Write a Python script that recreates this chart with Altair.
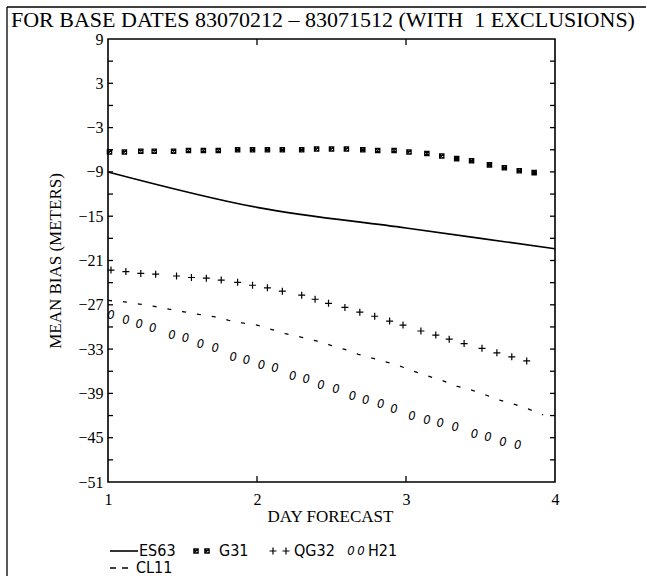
import altair as alt
import pandas as pd

# ---------------- text ----------------
TITLE = "FOR BASE DATES 83070212 \u2013 83071512 (WITH\u00a0 1 EXCLUSIONS)"
X_TITLE = "DAY FORECAST"
Y_TITLE = "MEAN BIAS (METERS)"
X_TICKS = [1, 2, 3, 4]
Y_TICKS = [9, 3, -3, -9, -15, -21, -27, -33, -39, -45, -51]
Y_INNER_TICKS = [6, 3, 0, -3, -6, -9, -12, -15, -18, -21, -24, -27, -30, -33, -36, -39, -42, -45, -48]
X_INNER_TICKS = [2, 3]
SERIES = ["ES63", "G31", "QG32", "H21", "CL11"]

# ---------------- data ----------------
ES63_DAY = [1.0, 2.0, 3.0, 4.0]
ES63_BIAS = [-9.0, -13.8, -16.6, -19.4]

G31_DAY = [1.01, 1.11, 1.22, 1.31, 1.44, 1.54, 1.64, 1.74, 1.87, 1.97, 2.07, 2.17, 2.30, 2.40,
           2.50, 2.60, 2.71, 2.81, 2.92, 3.02, 3.14, 3.24, 3.34, 3.44, 3.56, 3.66, 3.76, 3.86]
G31_BIAS = [-6.3, -6.3, -6.2, -6.2, -6.2, -6.1, -6.1, -6.1, -6.0, -6.0, -6.0, -6.0, -6.0, -5.9,
            -5.9, -5.9, -6.0, -6.1, -6.1, -6.3, -6.5, -6.85, -7.2, -7.5, -8.05, -8.45, -8.85, -9.1]

QG32_DAY = [1.02, 1.12, 1.22, 1.32, 1.46, 1.56, 1.66, 1.76, 1.87, 1.97, 2.07, 2.17, 2.30, 2.39,
            2.48, 2.59, 2.69, 2.79, 2.89, 2.98, 3.10, 3.20, 3.29, 3.39, 3.51, 3.61, 3.71, 3.81]
QG32_BIAS = [-22.3, -22.5, -22.75, -22.85, -23.1, -23.3, -23.4, -23.65, -23.95, -24.35, -24.7,
             -25.15, -25.7, -26.25, -26.8, -27.35, -28.0, -28.55, -29.2, -29.75, -30.55, -31.1,
             -31.65, -32.25, -32.9, -33.5, -34.05, -34.6]

H21_DAY = [1.02, 1.12, 1.21, 1.30, 1.43, 1.52, 1.62, 1.72, 1.84, 1.93, 2.03, 2.12, 2.24, 2.33,
           2.43, 2.53, 2.64, 2.73, 2.83, 2.92, 3.04, 3.14, 3.23, 3.33, 3.46, 3.55, 3.65, 3.75]
H21_BIAS = [-28.4, -29.1, -29.6, -30.2, -31.1, -31.55, -32.25, -32.9, -34.05, -34.5, -35.15,
            -35.6, -36.65, -37.1, -37.8, -38.35, -39.35, -39.9, -40.5, -41.05, -42.05, -42.55,
            -43.05, -43.6, -44.45, -44.9, -45.55, -46.0]

CL11_DAY = [1.0, 1.11, 1.21, 1.31, 1.41, 1.51, 1.61, 1.71, 1.81, 1.90, 2.00, 2.10, 2.19, 2.30,
            2.40, 2.49, 2.59, 2.68, 2.78, 2.87, 2.96, 3.05, 3.15, 3.25, 3.34, 3.44, 3.54, 3.63,
            3.73, 3.82, 3.92]
CL11_BIAS = [-26.4, -26.6, -26.9, -27.2, -27.6, -27.95, -28.3, -28.6, -29.1, -29.45, -29.75,
             -30.35, -30.9, -31.4, -31.9, -32.45, -33.05, -33.7, -34.25, -34.75, -35.3, -36.0,
             -36.65, -37.3, -38.0, -38.55, -39.25, -39.9, -40.5, -41.1, -41.9]

# ---------------- layout / style ----------------
W, H = 447, 443
LEFT, TOP = 108, 39
PADDING = {"left": LEFT, "top": TOP, "right": 646 - LEFT - W, "bottom": 576 - TOP - H}
SERIF = "Liberation Serif"
LEG_FONT = "DejaVu Sans Condensed"
INK = "black"
TICK_LEN = 5

X_SCALE = alt.Scale(domain=[1, 4], nice=False, zero=False)
Y_SCALE = alt.Scale(domain=[-51, 9], nice=False, zero=False)

G31_SHAPE = "M-1,-1H1V1H-1ZM-1,-1L1,1M1,-1L-1,1"
PLUS_SHAPE = "M-1,0H1M0,-1V1"

es63_df = pd.DataFrame({"day": ES63_DAY, "bias": ES63_BIAS})
g31_df = pd.DataFrame({"day": G31_DAY, "bias": G31_BIAS})
qg32_df = pd.DataFrame({"day": QG32_DAY, "bias": QG32_BIAS})
h21_df = pd.DataFrame({"day": H21_DAY, "bias": H21_BIAS})
cl11_df = pd.DataFrame({"day": CL11_DAY, "bias": CL11_BIAS})

X_AXIS = alt.Axis(values=X_TICKS, format="d", grid=False, domain=False, ticks=False,
                  labelFlush=False, labelOverlap=False, labelPadding=9,
                  labelFont=SERIF, labelFontSize=16, labelColor=INK,
                  titleFont=SERIF, titleFontSize=17, titleFontWeight="normal",
                  titleColor=INK, titleX=222, titleY=34, titleBaseline="middle",
                  titleAlign="center")
Y_AXIS = alt.Axis(values=Y_TICKS, format="d", grid=False, domain=False, ticks=False,
                  labelFlush=False, labelOverlap=False, labelPadding=5,
                  labelFont=SERIF, labelFontSize=16, labelColor=INK,
                  titleFont=SERIF, titleFontSize=17, titleFontWeight="normal",
                  titleColor=INK, titleX=-53, titleY=H / 2, titleAngle=270,
                  titleBaseline="middle", titleAlign="center")


def X():
    return alt.X("day:Q", scale=X_SCALE, axis=X_AXIS, title=X_TITLE)


def Y():
    return alt.Y("bias:Q", scale=Y_SCALE, axis=Y_AXIS, title=Y_TITLE)


es63 = alt.Chart(es63_df).mark_line(color=INK, strokeWidth=1.6, interpolate="monotone").encode(
    x=X(), y=Y())
cl11 = alt.Chart(cl11_df).mark_line(color=INK, strokeWidth=1.3, strokeDash=[4, 11]).encode(
    x=X(), y=Y())
g31 = alt.Chart(g31_df).mark_point(shape=G31_SHAPE, size=18, stroke=INK, strokeWidth=1.3,
                                   filled=False, opacity=1).encode(x=X(), y=Y())
qg32 = alt.Chart(qg32_df).mark_point(shape=PLUS_SHAPE, size=49, stroke=INK, strokeWidth=1.2,
                                     filled=False, opacity=1).encode(x=X(), y=Y())
h21 = alt.Chart(h21_df).mark_text(text="0", font=LEG_FONT, fontStyle="italic", fontSize=13,
                                  color=INK, align="center", baseline="middle").encode(
    x=X(), y=Y())

# inward tick marks on all four sides
yt_df = pd.DataFrame({"bias": Y_INNER_TICKS})
xt_df = pd.DataFrame({"day": X_INNER_TICKS})
tick_left = alt.Chart(yt_df).mark_rule(color=INK, strokeWidth=1.3).encode(
    y=Y(), x=alt.value(0), x2=alt.value(TICK_LEN))
tick_right = alt.Chart(yt_df).mark_rule(color=INK, strokeWidth=1.3).encode(
    y=Y(), x=alt.value(W - TICK_LEN), x2=alt.value(W))
tick_top = alt.Chart(xt_df).mark_rule(color=INK, strokeWidth=1.3).encode(
    x=X(), y=alt.value(0), y2=alt.value(TICK_LEN + 1))
tick_bottom = alt.Chart(xt_df).mark_rule(color=INK, strokeWidth=1.3).encode(
    x=X(), y=alt.value(H - TICK_LEN - 1), y2=alt.value(H))

# page frame (top and left edge) and header text
one = alt.Data(values=[{"t": TITLE}])
frame_top = alt.Chart(one).mark_rule(color=INK, strokeWidth=1.3).encode(
    x=alt.value(-LEFT + 7), x2=alt.value(646 - LEFT), y=alt.value(-32))
frame_left = alt.Chart(one).mark_rule(color=INK, strokeWidth=1.3).encode(
    x=alt.value(-LEFT + 7), y=alt.value(-32), y2=alt.value(576 - TOP))
title = alt.Chart(one).mark_text(font=SERIF, fontSize=22, color=INK, align="left",
                                 baseline="alphabetic").encode(
    text="t:N", x=alt.value(-LEFT + 11), y=alt.value(-12))

# legend (hand-laid, as on the original plot)
ROW1, ROW2 = 512, 529
leg = []
leg.append(alt.Chart(one).mark_rule(color=INK, strokeWidth=1.6).encode(
    x=alt.value(2), x2=alt.value(30), y=alt.value(ROW1)))
leg.append(alt.Chart(one).mark_rule(color=INK, strokeWidth=1.3, strokeDash=[6, 6]).encode(
    x=alt.value(2), x2=alt.value(20), y=alt.value(ROW2)))
for xp in (88, 99):
    leg.append(alt.Chart(one).mark_point(shape=G31_SHAPE, size=18, stroke=INK, strokeWidth=1.3,
                                         filled=False, opacity=1).encode(
        x=alt.value(xp), y=alt.value(ROW1)))
for xp in (165, 178):
    leg.append(alt.Chart(one).mark_point(shape=PLUS_SHAPE, size=49, stroke=INK, strokeWidth=1.2,
                                         filled=False, opacity=1).encode(
        x=alt.value(xp), y=alt.value(ROW1)))
for xp in (243, 253):
    leg.append(alt.Chart(one).mark_text(text="0", font=LEG_FONT, fontStyle="italic", fontSize=13,
                                        color=INK, align="center", baseline="middle").encode(
        x=alt.value(xp), y=alt.value(ROW1)))
LABEL_POS = {"ES63": (31, ROW1), "G31": (111, ROW1), "QG32": (186, ROW1),
             "H21": (260, ROW1), "CL11": (28, ROW2)}
for name in SERIES:
    lx, ly = LABEL_POS[name]
    leg.append(alt.Chart(alt.Data(values=[{"s": name}])).mark_text(
        font=LEG_FONT, fontSize=16, color=INK, align="left", baseline="middle").encode(
        text="s:N", x=alt.value(lx), y=alt.value(ly)))

chart = alt.layer(
    es63, cl11, g31, qg32, h21,
    tick_left, tick_right, tick_top, tick_bottom,
    frame_top, frame_left, title, *leg
).properties(
    width=W, height=H, padding=PADDING, autosize=alt.AutoSizeParams(type="none"),
    background="white"
).configure_view(
    stroke=INK, strokeWidth=1.6
)

chart.save("out.html", embed_options={"renderer": "svg", "actions": False})
